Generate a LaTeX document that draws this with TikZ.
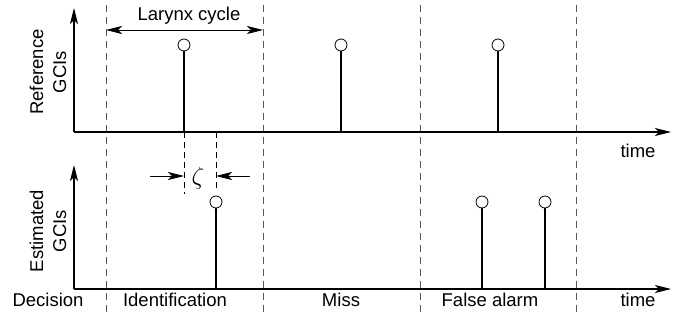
\documentclass[tikz,border=0pt]{standalone}
\usepackage{fontspec}
\setmainfont{Liberation Sans}
\usetikzlibrary{arrows.meta,positioning}

\tikzset{
  head/.tip={Stealth[length=16pt,width=8pt,inset=4pt]},
  axis/.style={line width=1.3pt, -head},
  stem/.style={line width=1.3pt},
  tip/.style={circle, draw, line width=0.8pt, fill=white, inner sep=0pt, minimum size=12pt},
  divider/.style={black!65, line width=0.8pt, dash pattern=on 7pt off 5pt},
  guide/.style={black, line width=0.8pt, dash pattern=on 6pt off 4pt},
  measure/.style={line width=0.8pt, -head},
  lbl/.style={font=\fontsize{18.5}{23}\selectfont, inner sep=0pt}
}

\begin{document}
\begin{tikzpicture}[x=1pt,y=-1pt]
  \useasboundingbox (0,0) rectangle (679,320);

  % Decision borders
  \foreach \x [count=\i] in {106,263,420,576} {
    \coordinate (d\i t) at (\x,5);
    \coordinate (d\i b) at (\x,316);
    \draw[divider] (d\i t) -- (d\i b);
  }

  % Axes
  \coordinate (o1) at (74,132);
  \coordinate (y1) at (74,8);
  \coordinate (x1) at (671,132);
  \coordinate (o2) at (74,289);
  \coordinate (y2) at (74,165);
  \coordinate (x2) at (671,289);
  \draw[axis] (o1) -- (y1);
  \draw[axis] (o1) -- (x1);
  \draw[axis] (o2) -- (y2);
  \draw[axis] (o2) -- (x2);
  \node[lbl] (t1) at (638,151) {time};
  \node[lbl] (t2) at (638,300) {time};

  % Axis labels
  \node[lbl, rotate=90, align=center] (ref) at (48,72) {Reference\\GCIs};
  \node[lbl, rotate=90, align=center] (est) at (48,231) {Estimated\\GCIs};

  % Larynx cycle
  \coordinate (c1) at (106,30);
  \coordinate (c2) at (263,30);
  \draw[measure, head-head] (c1) -- (c2);
  \node[lbl] (cyc) at (189,16) {Larynx cycle};

  % Reference GCIs
  \foreach \x [count=\i] in {184,341,498} {
    \coordinate (rb\i) at (\x,132);
    \node[tip] (r\i) at (\x,45) {};
    \draw[stem] (rb\i) -- (r\i.south);
  }

  % Estimated GCIs
  \foreach \x [count=\i] in {216,482,545} {
    \coordinate (eb\i) at (\x,289);
    \node[tip] (e\i) at (\x,202) {};
    \draw[stem] (eb\i) -- (e\i.south);
  }

  % Timing error
  \coordinate (z1) at (184,194);
  \coordinate (z2) at (216,190);
  \draw[guide] (rb1) -- (z1);
  \draw[guide] (216,132) -- (z2);
  \coordinate (a1) at (150,176);
  \coordinate (a2) at (184,176);
  \coordinate (b1) at (250,176);
  \coordinate (b2) at (216,176);
  \draw[measure] (a1) -- (a2);
  \draw[measure] (b1) -- (b2);
  \node[lbl, font=\fontsize{24}{24}\selectfont] (zeta) at (198,178) {$\zeta$};

  % Decisions
  \node[lbl] (dec) at (48,300) {Decision};
  \node[lbl] (idf) at (175,300) {Identification};
  \node[lbl] (mis) at (341,300) {Miss};
  \node[lbl] (fal) at (490,300) {False alarm};
\end{tikzpicture}
\end{document}
